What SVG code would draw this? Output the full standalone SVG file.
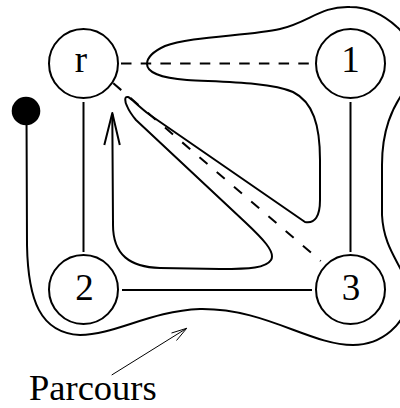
<svg xmlns="http://www.w3.org/2000/svg" width="400" height="408" viewBox="0 0 400 408">
<style>
.node{fill:#fff;stroke:#000;stroke-width:2}
.lbl{font-family:"Liberation Serif","Times New Roman",serif;font-size:37px;text-anchor:middle;fill:#000}
.edge{stroke:#000;stroke-width:2;fill:none}
.dash{stroke:#000;stroke-width:2;fill:none}
.tour{stroke:#000;stroke-width:2;fill:none;stroke-linejoin:round}
</style>
<rect width="400" height="408" fill="#fff"/>
<g id="connectors">
  <line class="dash" x1="121" y1="63.5" x2="309" y2="63.5" stroke-dasharray="10.5 9.2"/>
  <line class="dash" x1="113.3" y1="83.3" x2="320.7" y2="261" stroke-dasharray="10.5 12.2"/>
  <line class="edge" x1="83.5" y1="102" x2="83.5" y2="252"/>
  <line class="edge" x1="350.5" y1="102" x2="350.5" y2="252"/>
  <line class="edge" x1="122" y1="290" x2="312" y2="290"/>
</g>
<g id="parcours">
  <circle cx="26" cy="111" r="14.3" fill="#000"/>
  <path class="tour" d="M26.5,111 L27,245 C28,300 40,333 80,335 C115,335 150,311 200,309 C265,308 310,345 353,345 C380,345 408,325 408,295 C408,268 384,255 382,215 L382,165 C382,130 392,108 405,90 C415,75 412,40 397,27 C385,16 370,7 350,7 C320,6 310,22 280,29 C250,36 190,36 165,46 C152,52 147,58 147,64 C147,72 160,78 187,80 C220,82 270,82 293,92 C313,102 320,125 320,160 L320,200 C320,216 315,224 305,222 L150,115 C138,106 131,98 128,97 C124,96 125,102 127,106 C129,111 131,114 136,120 L245,222 C262,238 276,252 271,260 C266,268 250,269 220,269 L160,268 C130,267 113,255 113,225 L112.3,114"/>
  <polyline class="tour" points="104.3,145 112.3,113 119.8,145"/>
</g>
<g id="node-r"><circle class="node" cx="83.5" cy="63.5" r="34.5"/><text class="lbl" x="81" y="72">r</text></g>
<g id="node-1"><circle class="node" cx="350.5" cy="63.5" r="34.5"/><text class="lbl" x="350.5" y="72">1</text></g>
<g id="node-2"><circle class="node" cx="83.5" cy="289.5" r="34.5"/><text class="lbl" x="84.5" y="300">2</text></g>
<g id="node-3"><circle class="node" cx="350.5" cy="289.5" r="34.5"/><text class="lbl" x="351" y="300">3</text></g>
<g id="label">
  <line x1="111.7" y1="375" x2="186.7" y2="328.3" stroke="#000" stroke-width="1"/>
  <polyline points="171.5,333 186.7,328.3 176.5,340.5" fill="none" stroke="#000" stroke-width="1"/>
  <text x="29" y="400" font-family="'Liberation Serif','Times New Roman',serif" font-size="36.5">Parcours</text>
</g>
</svg>
